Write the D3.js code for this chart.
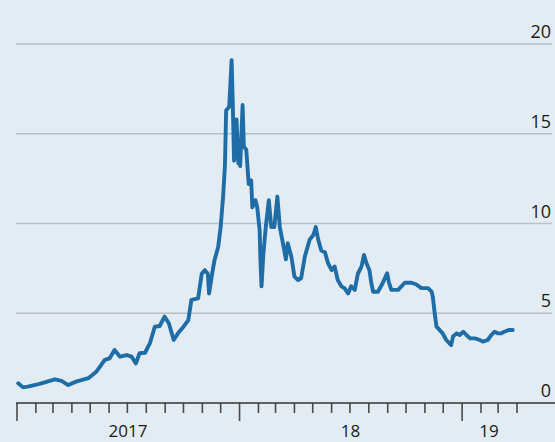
<!DOCTYPE html>
<html><head><meta charset="utf-8">
<script src="https://cdn.jsdelivr.net/npm/d3@7/dist/d3.min.js"></script>
<style>
html,body{margin:0;padding:0;background:#e3ecf2;}
svg{display:block;}
text{font-family:"Open Sans","Noto Sans",sans-serif;fill:#1a1a1a;}
</style></head>
<body>
<svg id="c" width="555" height="442"></svg>
<script>
// Bitcoin price, $'000
const dates = ["2017-01-03","2017-01-11","2017-01-19","2017-02-07","2017-03-04","2017-03-15","2017-03-26","2017-04-08","2017-04-28","2017-05-11","2017-05-25","2017-06-02","2017-06-10","2017-06-19","2017-06-30","2017-07-08","2017-07-15","2017-07-21","2017-07-30","2017-08-07","2017-08-15","2017-08-23","2017-08-31","2017-09-07","2017-09-15","2017-09-22","2017-09-29","2017-10-09","2017-10-14","2017-10-25","2017-10-31","2017-11-05","2017-11-10","2017-11-12","2017-11-18","2017-11-21","2017-11-27","2017-12-01","2017-12-05","2017-12-08","2017-12-10","2017-12-15","2017-12-19","2017-12-21","2017-12-23","2017-12-27","2017-12-30","2018-01-01","2018-01-02","2018-01-06","2018-01-08","2018-01-12","2018-01-16","2018-01-20","2018-01-22","2018-01-27","2018-01-30","2018-02-03","2018-02-04","2018-02-06","2018-02-09","2018-02-13","2018-02-18","2018-02-22","2018-02-27","2018-03-04","2018-03-08","2018-03-12","2018-03-18","2018-03-21","2018-03-27","2018-04-01","2018-04-07","2018-04-12","2018-04-18","2018-04-26","2018-05-02","2018-05-06","2018-05-10","2018-05-15","2018-05-21","2018-05-26","2018-06-01","2018-06-06","2018-06-11","2018-06-17","2018-06-22","2018-06-28","2018-07-03","2018-07-09","2018-07-14","2018-07-20","2018-07-24","2018-07-28","2018-08-02","2018-08-05","2018-08-08","2018-08-16","2018-08-24","2018-08-31","2018-09-03","2018-09-07","2018-09-18","2018-09-29","2018-10-10","2018-10-18","2018-10-26","2018-11-06","2018-11-12","2018-11-14","2018-11-17","2018-11-20","2018-11-25","2018-11-30","2018-12-06","2018-12-14","2018-12-17","2018-12-23","2018-12-28","2019-01-03","2019-01-08","2019-01-14","2019-01-22","2019-01-30","2019-02-04","2019-02-12","2019-02-18","2019-02-23","2019-03-01","2019-03-06","2019-03-11","2019-03-19","2019-03-25"];
const prices = [1.10,0.87,0.91,1.06,1.32,1.23,1.00,1.19,1.38,1.74,2.40,2.49,2.95,2.58,2.67,2.58,2.21,2.77,2.80,3.33,4.25,4.29,4.81,4.44,3.51,3.88,4.16,4.62,5.74,5.83,7.2,7.4,7.2,6.1,7.4,7.97,8.7,9.8,11.5,13.2,16.3,16.5,19.1,16.5,13.5,15.8,13.35,14.65,13.2,16.6,14.3,14.1,12.2,12.4,10.9,11.3,10.9,9.6,8.15,6.5,8.3,9.8,11.3,9.8,9.8,11.5,9.8,9.1,8.0,8.9,8.15,7.04,6.85,6.95,8.15,9.1,9.36,9.8,9.1,8.5,8.4,7.8,7.4,7.6,6.85,6.5,6.4,6.1,6.5,6.3,7.2,7.6,8.25,7.8,7.4,6.7,6.2,6.2,6.7,7.23,6.7,6.3,6.3,6.7,6.7,6.6,6.4,6.4,6.2,5.9,5.0,4.25,4.07,3.88,3.51,3.23,3.7,3.88,3.79,3.97,3.79,3.6,3.6,3.51,3.42,3.51,3.79,3.97,3.88,3.88,3.97,4.07,4.07];
const yTicks = [0,5,10,15,20];
const yearLabels = ["2017","18","19"];
const yearLabelDates = ["2017-07-02","2018-07-02","2019-02-14"];

const parse = d3.timeParse("%Y-%m-%d");
const data = dates.map((d,i)=>({date:parse(d), v:prices[i]}));

const svg = d3.select("#c");
const x = d3.scaleTime().domain([parse("2017-01-01"), parse("2019-04-01")]).range([17, 517]);
const y = d3.scaleLinear().domain([0,20]).range([403, 44]);

// gridlines
svg.append("g").selectAll("line").data(yTicks.filter(t=>t>0)).join("line")
  .attr("x1",16).attr("x2",552).attr("y1",d=>y(d)).attr("y2",d=>y(d))
  .attr("stroke","#b9c0c5").attr("stroke-width",1.3);

// y labels
svg.append("g").selectAll("text").data(yTicks).join("text")
  .attr("x",551).attr("y",d=>y(d)-6).attr("text-anchor","end")
  .attr("font-size",18).text(d=>d);

// x axis ticks
const months = d3.timeMonth.range(parse("2017-01-01"), parse("2019-04-02"));
svg.append("g").selectAll("line").data(months).join("line")
  .attr("x1",d=>x(d)).attr("x2",d=>x(d)).attr("y1",403)
  .attr("y2",d=>d.getMonth()===0?421:413)
  .attr("stroke","#4a4a4a").attr("stroke-width",1.6);
svg.append("line").attr("x1",16).attr("x2",555).attr("y1",y(0)).attr("y2",y(0))
  .attr("stroke","#333").attr("stroke-width",1.5);

svg.append("g").selectAll("text").data(yearLabels).join("text")
  .attr("x",(d,i)=>x(parse(yearLabelDates[i]))).attr("y",437)
  .attr("text-anchor","middle").attr("font-size",17).text(d=>d);

// line
svg.append("path").datum(data)
  .attr("d", d3.line().x(d=>x(d.date)).y(d=>y(d.v)))
  .attr("fill","none").attr("stroke","#1f6da6").attr("stroke-width",3.9)
  .attr("stroke-linejoin","round").attr("stroke-linecap","round");
</script>
</body></html>
